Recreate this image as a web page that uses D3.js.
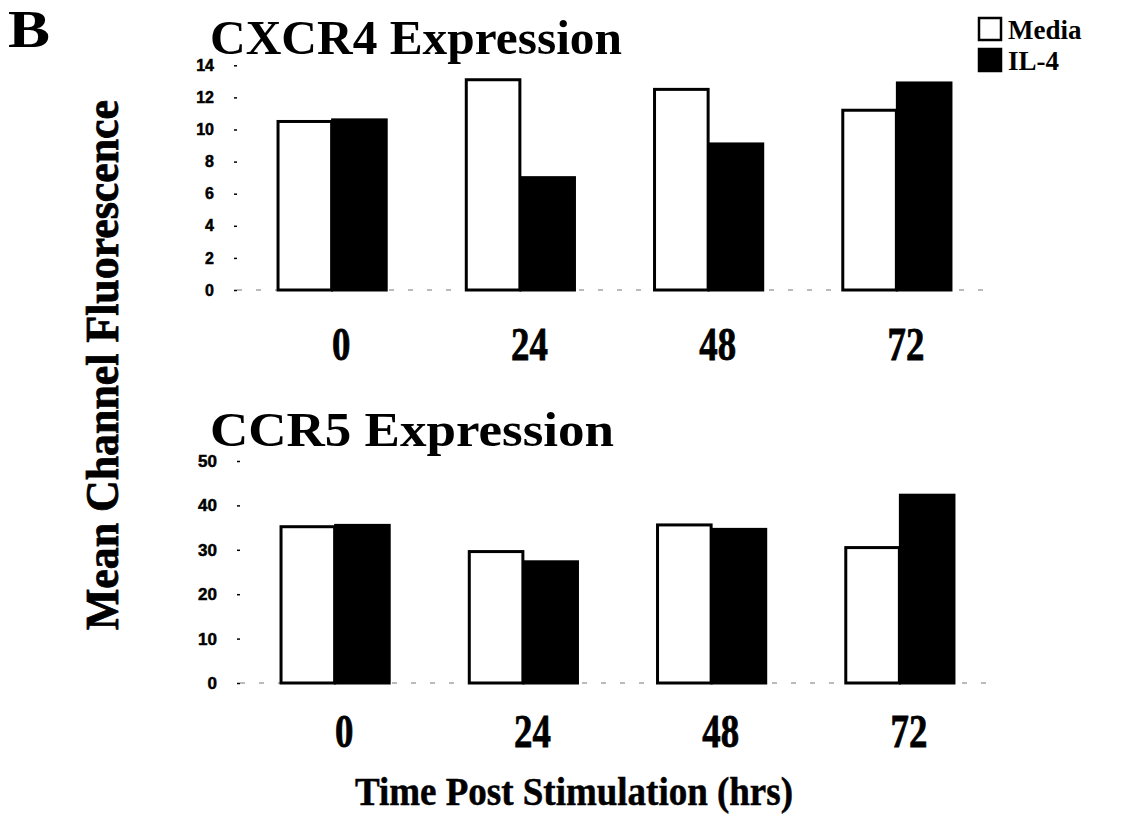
<!DOCTYPE html>
<html>
<head>
<meta charset="utf-8">
<script src="https://cdn.jsdelivr.net/npm/d3@7"></script>
<style>
  body { margin: 0; background: #fff; }
  svg text { font-family: 'Liberation Serif', 'Times New Roman', serif; font-weight: bold; fill: #000; }
</style>
</head>
<body>
<svg id="chart" width="1122" height="818"></svg>
<script>
// time points (hrs)
var timepoints = ['0', '24', '48', '72']
var series = ['Media', 'IL-4']

// CXCR4 mean channel fluorescence
var cxcr4Media = [10.5, 13.1, 12.5, 11.2]
var cxcr4IL4 = [10.6, 7.0, 9.1, 12.9]
var cxcr4Ticks = [0, 2, 4, 6, 8, 10, 12, 14]

// CCR5 mean channel fluorescence
var ccr5Media = [35.2, 29.6, 35.6, 30.5]
var ccr5IL4 = [35.5, 27.3, 34.6, 42.3]
var ccr5Ticks = [0, 10, 20, 30, 40, 50]

var svg = d3.select('#chart')

function drawPanel (opts) {
  var g = svg.append('g')
  var x = d3.scaleBand().domain(timepoints).range(opts.xRange)
    .paddingInner(0.42).paddingOuter(0.21)
  var xs = d3.scaleBand().domain(series).range([0, x.bandwidth()])
  var y = d3.scaleLinear().domain([0, opts.yMax]).range(opts.yRange)

  // faint broken baseline
  g.append('line')
    .attr('x1', opts.xRange[0]).attr('x2', opts.xRange[1])
    .attr('y1', y(0)).attr('y2', y(0))
    .attr('stroke', '#777').attr('stroke-width', 1)
    .attr('stroke-dasharray', '5,14')

  // y axis: tiny dot ticks, no domain line
  var yAxis = g.append('g')
    .attr('transform', 'translate(' + opts.xRange[0] + ',0)')
    .call(d3.axisLeft(y).tickValues(opts.ticks).tickSize(3).tickPadding(20))
  yAxis.select('.domain').remove()
  yAxis.selectAll('.tick line').attr('stroke', '#000').attr('stroke-width', 1.5)
  yAxis.selectAll('.tick text')
    .style('font-family', "'Liberation Sans', Arial, sans-serif")
    .style('font-weight', 'bold')
    .style('font-size', opts.tickSize + 'px')
    .attr('fill', '#000')
    .attr('stroke', '#000').attr('stroke-width', 0.5)

  var rows = timepoints.map(function (t, i) {
    return { t: t, vals: [{ s: 'Media', v: opts.media[i] }, { s: 'IL-4', v: opts.il4[i] }] }
  })

  var grp = g.selectAll('.grp').data(rows).enter().append('g')
    .attr('transform', function (d) { return 'translate(' + x(d.t) + ',0)' })

  grp.selectAll('rect').data(function (d) { return d.vals }).enter().append('rect')
    .attr('x', function (d) { return xs(d.s) + 1.5 })
    .attr('width', xs.bandwidth() - 1)
    .attr('y', function (d) { return y(d.v) })
    .attr('height', function (d) { return y(0) - y(d.v) })
    .attr('fill', function (d) { return d.s === 'Media' ? '#fff' : '#000' })
    .attr('stroke', '#000')
    .attr('stroke-width', 3)

  // category labels under each group (condensed bold serif)
  g.selectAll('.xl').data(timepoints).enter().append('text')
    .attr('transform', function (d) {
      return 'translate(' + (x(d) + x.bandwidth() / 2 + 10) + ',' + opts.labelY + ') scale(0.8,1)'
    })
    .attr('text-anchor', 'middle')
    .style('font-size', '46px')
    .attr('stroke', '#000').attr('stroke-width', 0.8)
    .text(function (d) { return d })

  svg.append('text')
    .attr('x', 210).attr('y', opts.titleY)
    .style('font-size', '48px')
    .attr('textLength', opts.titleLen).attr('lengthAdjust', 'spacingAndGlyphs')
    .text(opts.title)
}

drawPanel({
  title: 'CXCR4 Expression', titleY: 54, titleLen: 412,
  media: cxcr4Media, il4: cxcr4IL4, ticks: cxcr4Ticks, yMax: 14,
  xRange: [237, 990], yRange: [290, 65.3], labelY: 360, tickSize: 16
})

drawPanel({
  title: 'CCR5 Expression', titleY: 446, titleLen: 404,
  media: ccr5Media, il4: ccr5IL4, ticks: ccr5Ticks, yMax: 50,
  xRange: [240, 993], yRange: [683, 461], labelY: 747, tickSize: 17
})

// panel letter
svg.append('text').attr('x', 8).attr('y', 47)
  .attr('textLength', 42).attr('lengthAdjust', 'spacingAndGlyphs')
  .style('font-size', '52px').text('B')

// shared axis titles
svg.append('text')
  .attr('transform', 'translate(118,365) rotate(-90)')
  .attr('text-anchor', 'middle')
  .attr('textLength', 530).attr('lengthAdjust', 'spacingAndGlyphs')
  .style('font-size', '46px')
  .attr('stroke', '#000').attr('stroke-width', 0.8)
  .text('Mean Channel Fluorescence')

svg.append('text')
  .attr('x', 355).attr('y', 805)
  .attr('textLength', 438).attr('lengthAdjust', 'spacingAndGlyphs')
  .style('font-size', '40px')
  .attr('stroke', '#000').attr('stroke-width', 0.5)
  .text('Time Post Stimulation (hrs)')

// legend
var legend = svg.append('g').attr('transform', 'translate(979,18)')
var li = legend.selectAll('g').data(series).enter().append('g')
  .attr('transform', function (d, i) { return 'translate(0,' + i * 31 + ')' })
li.append('rect')
  .attr('width', 22).attr('height', 22)
  .attr('fill', function (d) { return d === 'Media' ? '#fff' : '#000' })
  .attr('stroke', '#000').attr('stroke-width', 2.5)
li.append('text')
  .attr('x', 29).attr('y', 21)
  .style('font-size', '27px')
  .text(function (d) { return d })
</script>
</body>
</html>
